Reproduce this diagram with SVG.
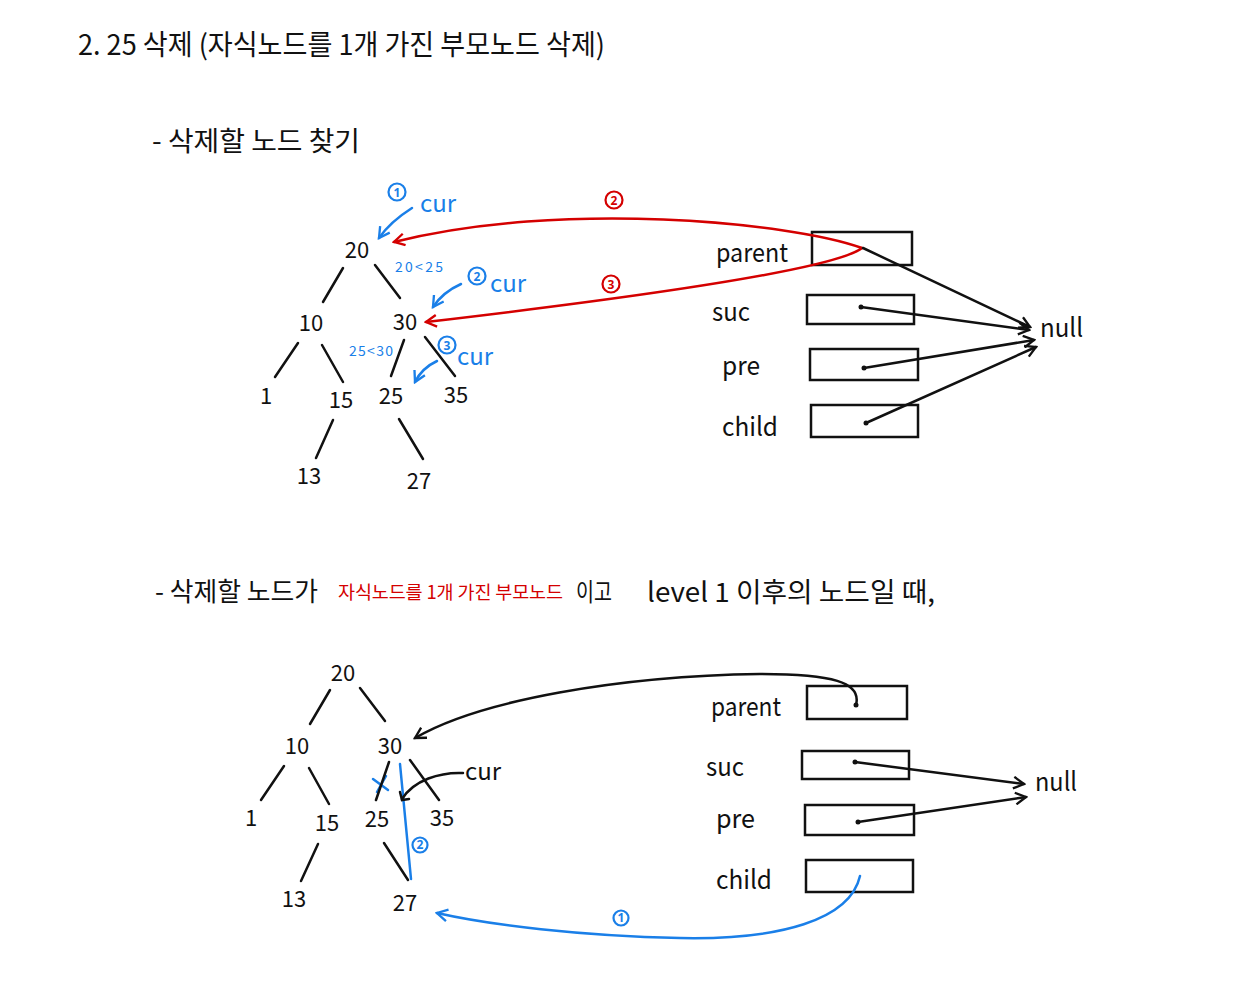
<svg xmlns="http://www.w3.org/2000/svg" width="1249" height="1000" viewBox="0 0 1249 1000">
<defs>
<style>
.t{font-family:"Noto Sans CJK KR","Noto Sans",sans-serif;fill:#111}
.n{font-family:"Noto Sans CJK KR","Noto Sans",sans-serif;fill:#111;font-size:22px;text-anchor:middle}
.lbl{font-family:"Noto Sans CJK KR","Noto Sans",sans-serif;fill:#111;font-size:26px}
.blue{fill:#1a7fe8}
.red{fill:#d40000}
.cn{font-family:"Noto Sans",sans-serif;font-size:12px;font-weight:bold;text-anchor:middle}
.bc{stroke:#1a7fe8;stroke-width:2.2;fill:none}
.rc{stroke:#d40000;stroke-width:2.2;fill:none}
.e{stroke:#111;stroke-width:2.5;fill:none;stroke-linecap:round}
.be{stroke:#1a7fe8;stroke-width:2.5;fill:none;stroke-linecap:round}
.re{stroke:#d40000;stroke-width:2.5;fill:none;stroke-linecap:round}
.box{stroke:#111;stroke-width:2.5;fill:none}
.dot{fill:#111}
</style>
<marker id="ak" viewBox="0 0 12 12" refX="10" refY="6" markerWidth="14" markerHeight="14" markerUnits="userSpaceOnUse" orient="auto"><path d="M1,1 L10,6 L1,11" fill="none" stroke="#111" stroke-width="2"/></marker>
<marker id="ab" viewBox="0 0 12 12" refX="10" refY="6" markerWidth="14" markerHeight="14" markerUnits="userSpaceOnUse" orient="auto"><path d="M1,1 L10,6 L1,11" fill="none" stroke="#1a7fe8" stroke-width="2"/></marker>
<marker id="ar" viewBox="0 0 12 12" refX="10" refY="6" markerWidth="14" markerHeight="14" markerUnits="userSpaceOnUse" orient="auto"><path d="M1,1 L10,6 L1,11" fill="none" stroke="#d40000" stroke-width="2"/></marker>
</defs>
<rect width="1249" height="1000" fill="#fff"/>

<g id="title"><text class="t" x="78" y="55" font-size="28" textLength="527" lengthAdjust="spacingAndGlyphs">2. 25 삭제 (자식노드를 1개 가진 부모노드 삭제)</text></g>
<g id="heading1"><text class="t" x="152" y="151" font-size="27" textLength="208" lengthAdjust="spacingAndGlyphs">- 삭제할 노드 찾기</text></g>
<g id="heading2">
<text class="t" x="155" y="601" font-size="26" textLength="163" lengthAdjust="spacingAndGlyphs">- 삭제할 노드가</text>
<text class="t red" x="338" y="599" font-size="18.5" textLength="225" lengthAdjust="spacing">자식노드를 1개 가진 부모노드</text>
<text class="t" x="576" y="601" font-size="25" textLength="36" lengthAdjust="spacingAndGlyphs">이고</text>
<text class="t" x="647" y="602" font-size="27" textLength="288" lengthAdjust="spacingAndGlyphs">level 1 이후의 노드일 때,</text>
</g>

<!-- Tree 1 -->
<g id="t1-20"><text class="n" x="357" y="258">20</text></g>
<g id="t1-10"><text class="n" x="311" y="331">10</text></g>
<g id="t1-30"><text class="n" x="405" y="330">30</text></g>
<g id="t1-1"><text class="n" x="266" y="404">1</text></g>
<g id="t1-15"><text class="n" x="341" y="408">15</text></g>
<g id="t1-25"><text class="n" x="391" y="404">25</text></g>
<g id="t1-35"><text class="n" x="456" y="403">35</text></g>
<g id="t1-13"><text class="n" x="309" y="484">13</text></g>
<g id="t1-27"><text class="n" x="419" y="489">27</text></g>

<g id="t1-annot">
<circle class="bc" cx="397" cy="192" r="8.5"/><text class="cn blue" x="397" y="196.5">1</text>
<text class="t blue" x="420" y="212" font-size="24">cur</text>
<text class="t blue" x="395" y="272" font-size="14" textLength="48" lengthAdjust="spacing">20&lt;25</text>
<circle class="bc" cx="477" cy="276" r="8.5"/><text class="cn blue" x="477" y="280.5">2</text>
<text class="t blue" x="490" y="292" font-size="24">cur</text>
<text class="t blue" x="349" y="356" font-size="14" textLength="44" lengthAdjust="spacing">25&lt;30</text>
<circle class="bc" cx="447" cy="345" r="8.5"/><text class="cn blue" x="447" y="349.5">3</text>
<text class="t blue" x="457" y="365" font-size="24">cur</text>
<circle class="rc" cx="614" cy="200" r="8.5"/><text class="cn red" x="614" y="204.5">2</text>
<circle class="rc" cx="611" cy="284" r="8.5"/><text class="cn red" x="611" y="288.5">3</text>
</g>

<g id="t1-fields">
<text class="lbl" x="716" y="262" textLength="72" lengthAdjust="spacingAndGlyphs">parent</text>
<rect class="box" x="812" y="232" width="100" height="33"/>
<text class="lbl" x="712" y="321" textLength="38" lengthAdjust="spacingAndGlyphs">suc</text>
<rect class="box" x="807" y="295" width="107" height="29"/>
<text class="lbl" x="722" y="375" textLength="38" lengthAdjust="spacingAndGlyphs">pre</text>
<rect class="box" x="810" y="349" width="108" height="31"/>
<text class="lbl" x="722" y="436" textLength="56" lengthAdjust="spacingAndGlyphs">child</text>
<rect class="box" x="811" y="405" width="107" height="32"/>
<text class="lbl" x="1040" y="337" textLength="43" lengthAdjust="spacingAndGlyphs">null</text>
<circle class="dot" cx="861" cy="307" r="2.5"/>
<circle class="dot" cx="864" cy="368" r="2.5"/>
<circle class="dot" cx="866" cy="423" r="2.5"/>
</g>

<!-- Tree 2 -->
<g id="t2-20"><text class="n" x="343" y="681">20</text></g>
<g id="t2-10"><text class="n" x="297" y="754">10</text></g>
<g id="t2-30"><text class="n" x="390" y="754">30</text></g>
<g id="t2-1"><text class="n" x="251" y="826">1</text></g>
<g id="t2-15"><text class="n" x="327" y="831">15</text></g>
<g id="t2-25"><text class="n" x="377" y="827">25</text></g>
<g id="t2-35"><text class="n" x="442" y="826">35</text></g>
<g id="t2-13"><text class="n" x="294" y="907">13</text></g>
<g id="t2-27"><text class="n" x="405" y="911">27</text></g>

<g id="t2-annot">
<text class="t" x="465" y="780" font-size="24">cur</text>
<circle class="bc" cx="420" cy="845" r="7.5"/><text class="cn blue" x="420" y="849" font-size="11">2</text>
<circle class="bc" cx="621" cy="918" r="7.5"/><text class="cn blue" x="621" y="922" font-size="11">1</text>
<path class="be" d="M373,779 L388,790 M386,776 L377,792"/>
</g>

<g id="t2-fields">
<text class="lbl" x="711" y="716" textLength="70" lengthAdjust="spacingAndGlyphs">parent</text>
<rect class="box" x="807" y="686" width="100" height="33"/>
<text class="lbl" x="706" y="776" textLength="38" lengthAdjust="spacingAndGlyphs">suc</text>
<rect class="box" x="802" y="751" width="107" height="28"/>
<text class="lbl" x="716" y="828" textLength="39" lengthAdjust="spacingAndGlyphs">pre</text>
<rect class="box" x="805" y="805" width="109" height="30"/>
<text class="lbl" x="716" y="889" textLength="56" lengthAdjust="spacingAndGlyphs">child</text>
<rect class="box" x="806" y="860" width="107" height="32"/>
<text class="lbl" x="1035" y="791" textLength="42" lengthAdjust="spacingAndGlyphs">null</text>
<circle class="dot" cx="856" cy="705" r="2.5"/>
<circle class="dot" cx="855" cy="762" r="2.5"/>
<circle class="dot" cx="858" cy="822" r="2.5"/>
</g>

<g id="connectors">
<!-- tree 1 edges -->
<path class="e" d="M343,268 L323,302"/>
<path class="e" d="M375,265 L400,298"/>
<path class="e" d="M298,343 L275,377"/>
<path class="e" d="M322,345 L343,382"/>
<path class="e" d="M404,340 L391,376"/>
<path class="e" d="M425,337 L455,376"/>
<path class="e" d="M333,420 L316,458"/>
<path class="e" d="M399,419 L423,459"/>
<!-- tree 1 blue cur arrows -->
<path class="be" d="M412,208 Q390,222 379,238" marker-end="url(#ab)"/>
<path class="be" d="M461,284 Q443,292 433,307" marker-end="url(#ab)"/>
<path class="be" d="M437,361 Q422,368 415,382" marker-end="url(#ab)"/>
<!-- tree 1 red parent arrows -->
<path class="re" d="M862,248 C790,222 560,200 394,242" marker-end="url(#ar)"/>
<path class="re" d="M862,248 C840,265 700,290 426,322" marker-end="url(#ar)"/>
<!-- tree 1 null arrows -->
<path class="e" d="M863,248 L1030,327" marker-end="url(#ak)"/>
<path class="e" d="M861,307 L1029,330" marker-end="url(#ak)"/>
<path class="e" d="M864,368 L1034,340" marker-end="url(#ak)"/>
<path class="e" d="M866,423 L1036,347" marker-end="url(#ak)"/>

<!-- tree 2 edges -->
<path class="e" d="M330,690 L310,724"/>
<path class="e" d="M360,688 L385,721"/>
<path class="e" d="M284,766 L261,800"/>
<path class="e" d="M309,768 L329,804"/>
<path class="e" d="M389,762 L376,800"/>
<path class="e" d="M410,760 L439,800"/>
<path class="e" d="M318,844 L301,881"/>
<path class="e" d="M384,843 L408,880"/>
<!-- blue bypass line -->
<path class="be" d="M400,764 L411,879"/>
<!-- cur arrow -->
<path class="e" d="M463,773 C440,772 414,780 402,799"/>
<path class="e" d="M400,792 L402,800 L409,799"/>
<!-- parent arrow -->
<path class="e" d="M856,705 C862,682 832,674 760,674 C620,676 480,700 415,738" marker-end="url(#ak)"/>
<!-- null arrows -->
<path class="e" d="M855,762 L1024,784" marker-end="url(#ak)"/>
<path class="e" d="M858,822 L1026,797" marker-end="url(#ak)"/>
<!-- child to 27 -->
<path class="be" d="M860,876 C850,920 780,940 680,938 C580,936 490,925 437,913" marker-end="url(#ab)"/>
</g>
</svg>
